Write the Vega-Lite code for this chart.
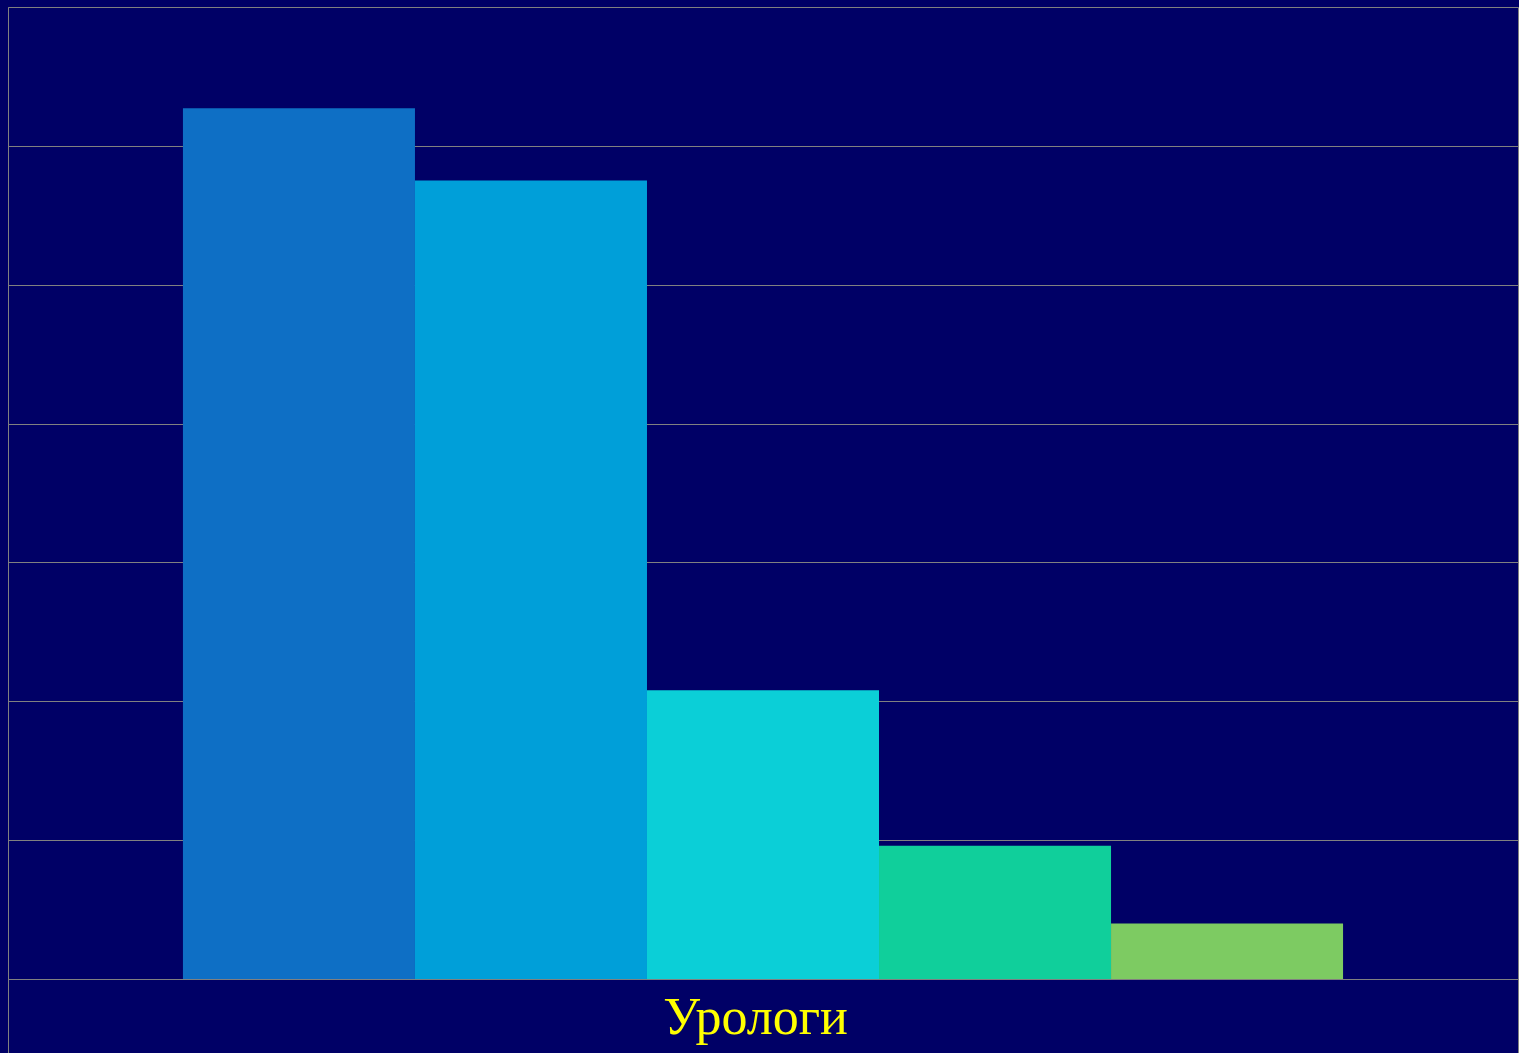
{
  "$schema": "https://vega.github.io/schema/vega-lite/v6.json",
  "width": 1510,
  "height": 972,
  "autosize": {"type": "none"},
  "padding": {"left": 8, "top": 7, "right": 1, "bottom": 74},
  "background": "#000066",
  "config": {
    "view": {"stroke": "#808080", "strokeWidth": 1, "fill": "#000066"}
  },
  "data": {
    "values": [
      {"group": "Урологи", "series": "A", "value": 6.27},
      {"group": "Урологи", "series": "B", "value": 5.75},
      {"group": "Урологи", "series": "C", "value": 2.08},
      {"group": "Урологи", "series": "D", "value": 0.96},
      {"group": "Урологи", "series": "E", "value": 0.4}
    ]
  },
  "mark": {"type": "bar", "strokeWidth": 0},
  "encoding": {
    "x": {
      "field": "group",
      "type": "nominal",
      "scale": {"paddingInner": 0, "paddingOuter": 0},
      "axis": {
        "title": null,
        "labelAngle": 0,
        "labelColor": "#FFFF00",
        "labelFont": "Liberation Serif",
        "labelFontSize": 52,
        "labelLimit": 0,
        "labelBaseline": "alphabetic",
        "labelOffset": -8,
        "tickBand": "extent",
        "tickSize": 74,
        "tickColor": "#808080",
        "tickWidth": 1,
        "labelPadding": -20,
        "domainColor": "#808080",
        "domainWidth": 1
      }
    },
    "xOffset": {
      "field": "series",
      "type": "nominal",
      "scale": {"paddingInner": 0, "paddingOuter": 0.754}
    },
    "y": {
      "field": "value",
      "type": "quantitative",
      "scale": {"domain": [0, 7], "nice": false},
      "axis": {
        "title": null,
        "labels": false,
        "ticks": false,
        "domain": false,
        "values": [0, 1, 2, 3, 4, 5, 6, 7],
        "labelOverlap": false,
        "grid": true,
        "gridColor": "#808080",
        "gridWidth": 1
      }
    },
    "color": {
      "field": "series",
      "type": "nominal",
      "scale": {
        "domain": ["A", "B", "C", "D", "E"],
        "range": ["#0E6FC5", "#009FD9", "#0BCFD7", "#10CF9B", "#7DCB62"]
      },
      "legend": null
    }
  }
}
